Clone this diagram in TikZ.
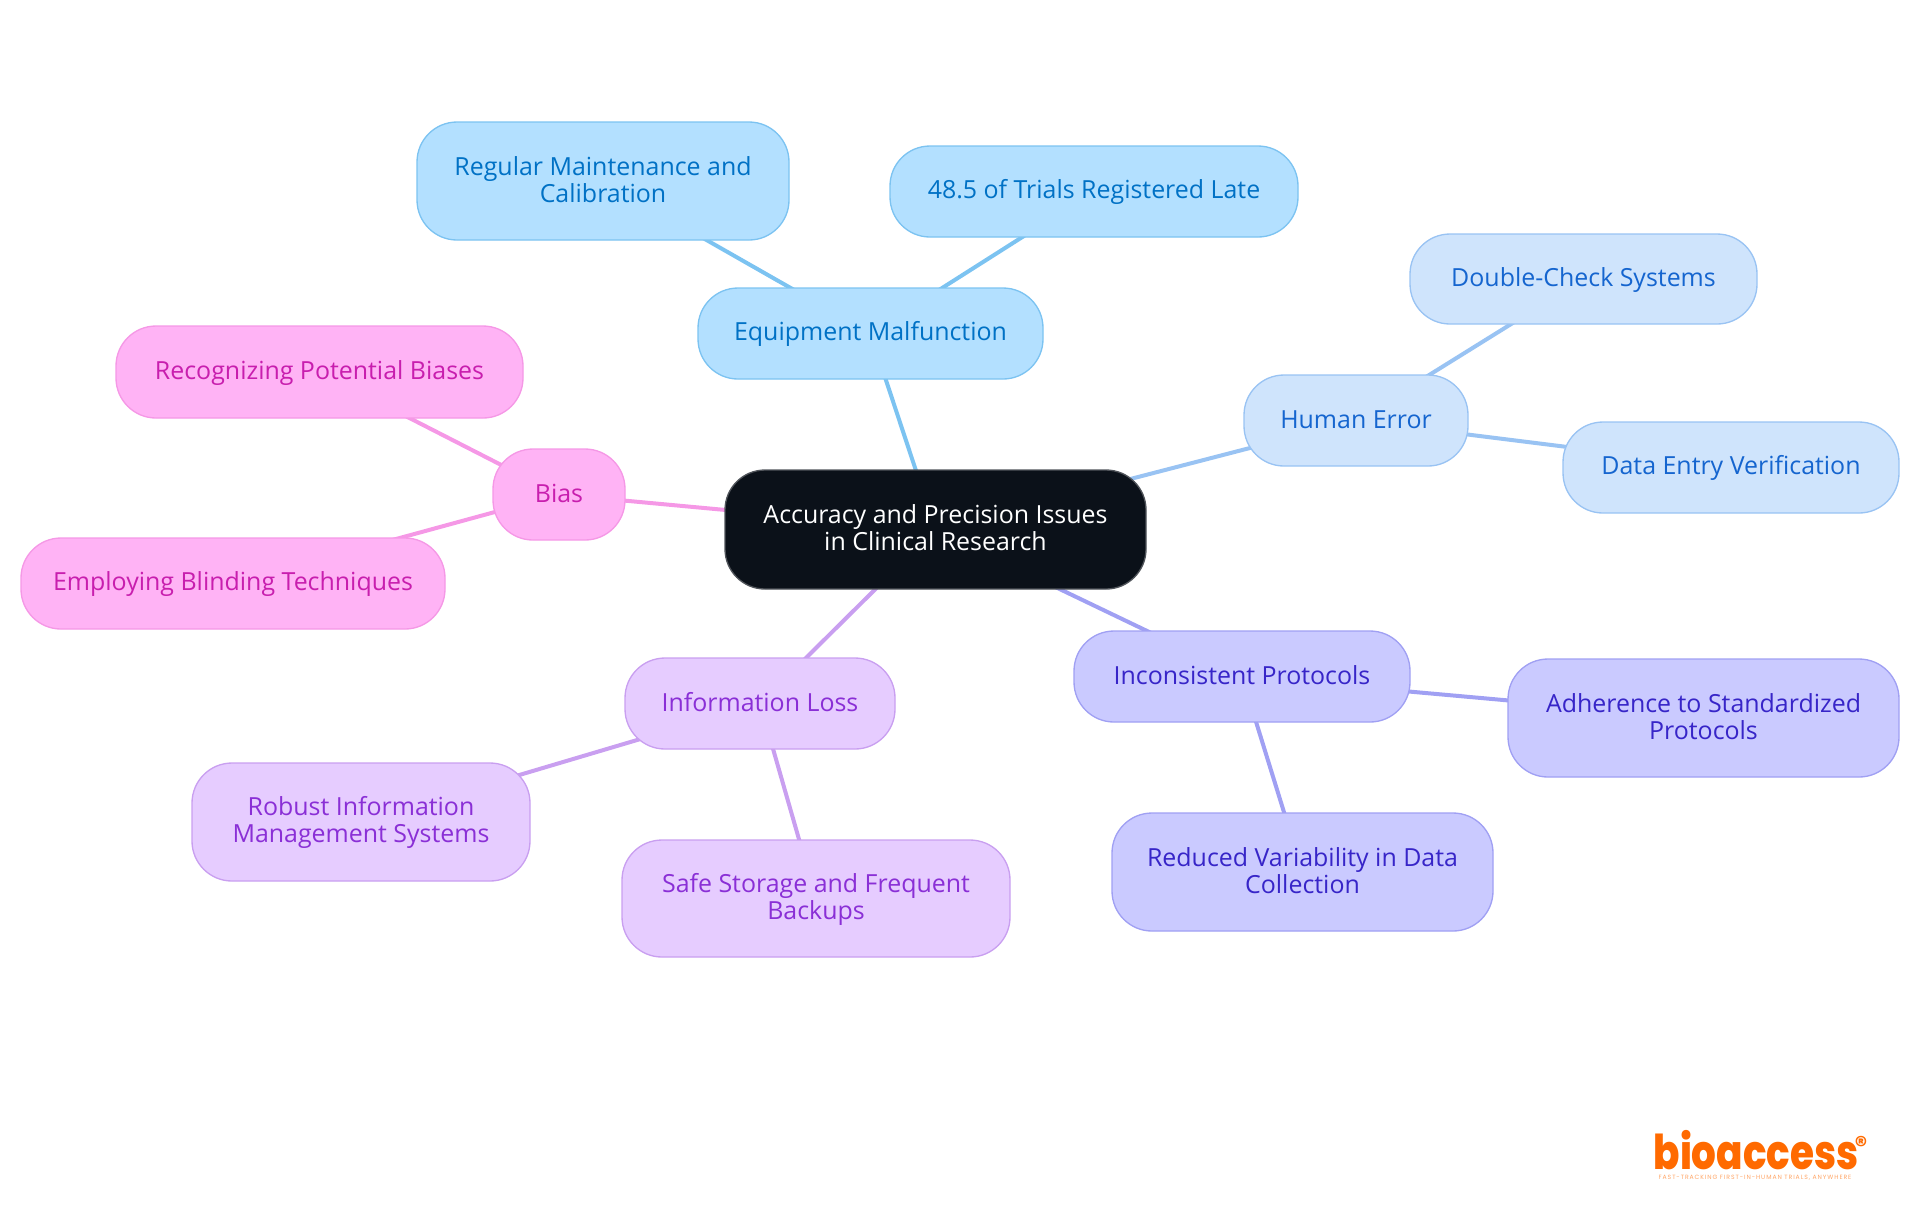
\documentclass[tikz,border=0pt]{standalone}
\usepackage{fontspec}
\usepackage{graphicx}
\setmainfont{Open Sans}
\newfontfamily\logofont{Poppins ExtraBold}
\newfontfamily\logotag[LetterSpace=15]{Poppins}
\usetikzlibrary{backgrounds}
\definecolor{cFillE}{HTML}{B3E0FF}\definecolor{cLineE}{HTML}{7CC3F1}\definecolor{cTextE}{HTML}{0071C5}
\definecolor{cFillH}{HTML}{CFE4FC}\definecolor{cLineH}{HTML}{99C3F3}\definecolor{cTextH}{HTML}{1565CF}
\definecolor{cFillI}{HTML}{CACAFF}\definecolor{cLineI}{HTML}{A0A0F3}\definecolor{cTextI}{HTML}{3725C8}
\definecolor{cFillL}{HTML}{E6CCFF}\definecolor{cLineL}{HTML}{C99FF0}\definecolor{cTextL}{HTML}{8A2FD6}
\definecolor{cFillB}{HTML}{FFB3F5}\definecolor{cLineB}{HTML}{F598E6}\definecolor{cTextB}{HTML}{C81EAE}
\definecolor{cDark}{HTML}{0B1119}\definecolor{cDarkLine}{HTML}{50545A}\definecolor{cLogo}{HTML}{FF6A00}
\tikzset{
  x=0.75pt,y=-0.75pt,
  mapnode/.style={rounded corners=30pt,line width=1pt,align=center,inner sep=0pt,font=\fontsize{18.7}{20.25}\selectfont},
  rootnode/.style={mapnode,fill=cDark,draw=cDarkLine,text=white},
  enode/.style={mapnode,fill=cFillE,draw=cLineE,text=cTextE},
  hnode/.style={mapnode,fill=cFillH,draw=cLineH,text=cTextH},
  inode/.style={mapnode,fill=cFillI,draw=cLineI,text=cTextI},
  lnode/.style={mapnode,fill=cFillL,draw=cLineL,text=cTextL},
  bnode/.style={mapnode,fill=cFillB,draw=cLineB,text=cTextB},
  link/.style={line width=3pt},
}
\newcommand{\strutS}{\rule[-2.8pt]{0pt}{18.2pt}}
\newcommand{\strutT}{\rule[-3pt]{0pt}{18pt}}
\newcommand{\strutR}{\rule[-3pt]{0pt}{15pt}}
\newcommand{\mapbox}[8]{% style, name, x0,y0,x1,y1, strut, text
  \node[#1,minimum width={(#5-#3)*0.75pt},minimum height={(#6-#4)*0.75pt}] (#2) at ({(#3+#5)/2},{(#4+#6)/2}) {#7#8#7};}
\begin{document}
\begin{tikzpicture}
\useasboundingbox (0,0) rectangle (1920,1215);
\mapbox{rootnode}{root}{725}{470}{1146}{589}{\strutR}{Accuracy and Precision Issues\\in Clinical Research}
\mapbox{enode}{equip}{698}{288}{1043}{379}{\strutS}{Equipment Malfunction}
\mapbox{enode}{maint}{417}{122}{789}{240}{\strutT}{Regular Maintenance and\\Calibration}
\mapbox{enode}{late}{890}{146}{1298}{237}{\strutS}{48.5 of Trials Registered Late}
\mapbox{hnode}{human}{1244}{375}{1468}{466}{\strutS}{Human Error}
\mapbox{hnode}{dbl}{1410}{234}{1757}{324}{\strutS}{Double-Check Systems}
\mapbox{hnode}{entry}{1563}{422}{1899}{513}{\strutS}{Data Entry Verification}
\mapbox{bnode}{bias}{493}{449}{625}{540}{\strutS}{Bias}
\mapbox{bnode}{recog}{116}{326}{523}{418}{\strutS}{Recognizing Potential Biases}
\mapbox{bnode}{blind}{21}{538}{445}{629}{\strutS}{Employing Blinding Techniques}
\mapbox{lnode}{loss}{625}{658}{895}{749}{\strutS}{Information Loss}
\mapbox{lnode}{robust}{192}{763}{530}{881}{\strutT}{Robust Information\\Management Systems}
\mapbox{lnode}{safe}{622}{840}{1010}{957}{\strutT}{Safe Storage and Frequent\\Backups}
\mapbox{inode}{incons}{1074}{631}{1410}{722}{\strutS}{Inconsistent Protocols}
\mapbox{inode}{adher}{1508}{659}{1899}{777}{\strutT}{Adherence to Standardized\\Protocols}
\mapbox{inode}{reduc}{1112}{813}{1493}{931}{\strutT}{Reduced Variability in Data\\Collection}
\begin{scope}[on background layer]
\draw[link,cLineE] (root.center) -- (equip.center);
\draw[link,cLineE] (equip.center) -- (maint.center);
\draw[link,cLineE] (equip.center) -- (late.center);
\draw[link,cLineH] (root.center) -- (human.center);
\draw[link,cLineH] (human.center) -- (dbl.center);
\draw[link,cLineH] (human.center) -- (entry.center);
\draw[link,cLineB] (root.center) -- (bias.center);
\draw[link,cLineB] (bias.center) -- (recog.center);
\draw[link,cLineB] (bias.center) -- (blind.center);
\draw[link,cLineL] (root.center) -- (loss.center);
\draw[link,cLineL] (loss.center) -- (robust.center);
\draw[link,cLineL] (loss.center) -- (safe.center);
\draw[link,cLineI] (root.center) -- (incons.center);
\draw[link,cLineI] (incons.center) -- (adher.center);
\draw[link,cLineI] (incons.center) -- (reduc.center);
\end{scope}
\node[text=cLogo,inner sep=0pt,anchor=base,font=\logofont\fontsize{36}{36}\selectfont] (logo) at (1756,1169) {\scalebox{0.81}[1]{\smash{bioaccess}}};
\node[text=cLogo,inner sep=0pt,font=\logofont\fontsize{18}{18}\selectfont] (reg) at (1861,1145) {®};
\node[text=cLogo!60,inner sep=0pt,anchor=base,font=\logotag\fontsize{4.6}{5}\selectfont] (tag) at (1755,1179) {FAST-TRACKING FIRST-IN-HUMAN TRIALS, ANYWHERE};
\end{tikzpicture}
\end{document}
